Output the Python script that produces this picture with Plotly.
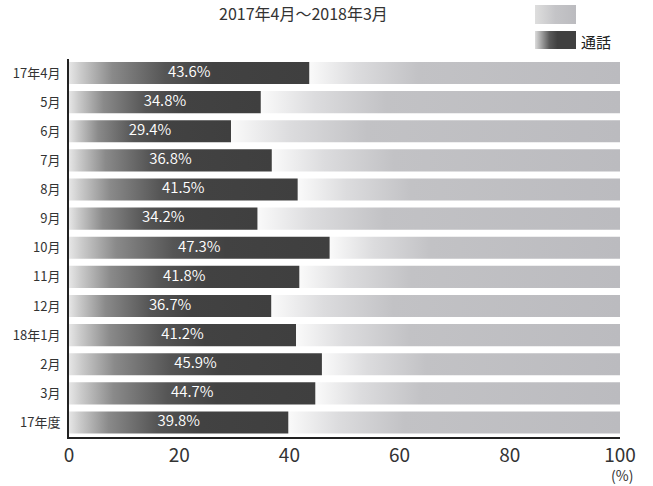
import plotly.graph_objects as go

# Monthly share of calls (%), April 2017 - March 2018, plus fiscal-year total
categories = ['17年4月', '5月', '6月', '7月', '8月', '9月', '10月', '11月', '12月',
              '18年1月', '2月', '3月', '17年度']
call_share = [43.6, 34.8, 29.4, 36.8, 41.5, 34.2, 47.3, 41.8, 36.7, 41.2, 45.9, 44.7, 39.8]
total = 100
x_ticks = [0, 20, 40, 60, 80, 100]

W, H = 653, 486
FONT = "Noto Sans CJK JP"
HALF = 0.38  # half bar thickness in category units

dark_scale = [[0, '#e6e6e6'], [0.05, '#cacaca'], [0.18, '#8a8a8a'], [0.4, '#555555'],
              [0.6, '#424242'], [1, '#3f3f3f']]
light_scale = [[0, '#fafafa'], [0.15, '#dcdcde'], [0.35, '#c2c2c5'], [1, '#bbbbbf']]

fig = go.Figure()


def rect_trace(x0, x1, y0, y1, scale, xaxis='x', yaxis='y'):
    return go.Scatter(
        x=[x0, x1, x1, x0, x0], y=[y0, y0, y1, y1, y0],
        mode='lines', line=dict(width=0), fill='toself',
        fillgradient=dict(type='horizontal', colorscale=scale),
        hoverinfo='skip', showlegend=False, xaxis=xaxis, yaxis=yaxis)


for i, v in enumerate(call_share):
    fig.add_trace(rect_trace(v, total, i - HALF, i + HALF, light_scale))
    fig.add_trace(rect_trace(0, v, i - HALF, i + HALF, dark_scale))

# value labels centred on the dark segment
fig.add_trace(go.Scatter(
    x=[v / 2 for v in call_share], y=list(range(len(call_share))),
    mode='text', text=[f'{v:.1f}%' for v in call_share],
    textfont=dict(family=FONT, size=15, color='white', weight=350),
    hoverinfo='skip', showlegend=False))

# legend swatches on a pixel-space overlay
fig.add_trace(rect_trace(535, 576, 5, 24, [[0, '#dedede'], [0.5, '#c4c4c7'], [1, '#bbbbbf']],
                         xaxis='x2', yaxis='y2'))
fig.add_trace(rect_trace(535, 576, 31, 49, [[0, '#dcdcdc'], [0.35, '#5a5a5a'], [0.55, '#404040'], [1, '#404040']],
                         xaxis='x2', yaxis='y2'))

fig.update_layout(
    width=W, height=H,
    margin=dict(l=0, r=0, t=0, b=0),
    paper_bgcolor='white', plot_bgcolor='rgba(0,0,0,0)',
    xaxis=dict(domain=[69 / W, 620 / W], range=[0, 100], tickvals=x_ticks,
               ticktext=[str(t) for t in x_ticks], showgrid=False, zeroline=False,
               showline=True, linecolor='#222222', linewidth=2, ticks='',
               tickfont=dict(family=FONT, size=19, color='#333333'),
               automargin=False),
    yaxis=dict(domain=[49 / H, 427.5 / H], range=[len(categories) - 0.5, -0.5],
               tickvals=list(range(len(categories))), ticktext=categories,
               showgrid=False, zeroline=False, showline=True, linecolor='#222222',
               linewidth=2, ticks='', ticklabelstandoff=4,
               tickfont=dict(family=FONT, size=13, color='#333333'), automargin=False),
    xaxis2=dict(domain=[0, 1], range=[0, W], visible=False, fixedrange=True),
    yaxis2=dict(domain=[0, 1], range=[H, 0], visible=False, fixedrange=True),
    annotations=[
        dict(text='2017年4月～2018年3月', x=303 / W, y=1 - 13 / H, xref='paper', yref='paper',
             showarrow=False, font=dict(family=FONT, size=16, color='#333333'),
             xanchor='center', yanchor='middle'),
        dict(text='通話', x=579 / W, y=1 - 41 / H, xref='paper', yref='paper',
             showarrow=False, font=dict(family=FONT, size=15, color='#222222'),
             xanchor='left', yanchor='middle'),
        dict(text='(%)', x=622 / W, y=1 - 475 / H, xref='paper', yref='paper',
             showarrow=False, font=dict(family=FONT, size=14, color='#333333'),
             xanchor='center', yanchor='middle'),
    ],
)

fig.write_html("out.html")
